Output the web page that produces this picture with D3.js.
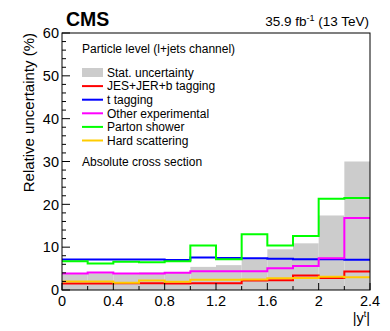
<!DOCTYPE html>
<html>
<head>
<meta charset="utf-8">
<script src="https://cdn.jsdelivr.net/npm/d3@7"></script>
<style>
body { margin: 0; background: #fff; }
svg text { font-family: "Liberation Sans", Arial, sans-serif; fill: #000; }
</style>
</head>
<body>
<svg id="chart" width="390" height="331"></svg>
<script>
'use strict';
// bin edges of |y^t|
let binEdges = [0, 0.2, 0.4, 0.6, 0.8, 1.0, 1.2, 1.4, 1.6, 1.8, 2.0, 2.2, 2.4];

// relative uncertainties (%) per bin
let statUnc      = [3.7, 3.9, 3.7, 4.1, 4.2, 5.4, 5.8, 7.2, 9.5, 10.9, 17.4, 30.0];
let jesJerBtag   = [1.5, 1.5, 1.6, 1.6, 1.5, 1.6, 1.6, 2.2, 2.3, 3.4, 2.8, 4.3];
let tTagging     = [7.1, 7.1, 7.1, 7.1, 7.0, 7.6, 7.5, 7.4, 7.3, 7.2, 7.2, 7.05];
let otherExp     = [3.85, 4.1, 3.85, 3.85, 4.0, 4.4, 4.4, 4.4, 5.1, 5.6, 7.4, 16.8];
let partonShower = [6.7, 6.2, 6.6, 6.5, 6.7, 10.4, 7.2, 13.0, 10.4, 12.6, 21.3, 21.5];
let hardScatter  = [2.0, 2.0, 1.7, 2.2, 1.9, 2.4, 2.4, 2.45, 2.75, 2.8, 3.1, 3.0];

let xTicks = [0, 0.4, 0.8, 1.2, 1.6, 2, 2.4];
let yTicks = [0, 10, 20, 30, 40, 50, 60];

let lineSeries = [
    {name: "JES+JER+b tagging", color: "#ff0000", values: jesJerBtag},
    {name: "t tagging", color: "#0000ff", values: tTagging},
    {name: "Other experimental", color: "#ff00ff", values: otherExp},
    {name: "Parton shower", color: "#00ff00", values: partonShower},
    {name: "Hard scattering", color: "#ffcc00", values: hardScatter}
];

let svg = d3.select("#chart");
let frame = {left: 62, right: 370, top: 33, bottom: 290};

let x = d3.scaleLinear().domain([0, 2.4]).range([frame.left, frame.right]);
let y = d3.scaleLinear().domain([0, 60]).range([frame.bottom, frame.top]);

// step points: value held over each bin, repeated at last edge
function stepPoints(vals) {
    let pts = vals.map((v, i) => ({x: binEdges[i], v: v}));
    pts.push({x: binEdges[binEdges.length - 1], v: vals[vals.length - 1]});
    return pts;
}

// stat. uncertainty as gray bars
svg.append("g").selectAll("rect")
    .data(statUnc)
    .enter().append("rect")
    .attr("x", (d, i) => x(binEdges[i]))
    .attr("width", (d, i) => x(binEdges[i + 1]) - x(binEdges[i]))
    .attr("y", d => y(d))
    .attr("height", d => y(0) - y(d))
    .attr("fill", "#cccccc");

let line = d3.line()
    .curve(d3.curveStepAfter)
    .x(d => x(d.x))
    .y(d => y(d.v));

svg.append("g").selectAll("path")
    .data(lineSeries)
    .enter().append("path")
    .attr("d", d => line(stepPoints(d.values)))
    .attr("fill", "none")
    .attr("stroke", d => d.color)
    .attr("stroke-width", 2);

// frame
svg.append("rect")
    .attr("x", frame.left).attr("y", frame.top)
    .attr("width", frame.right - frame.left)
    .attr("height", frame.bottom - frame.top)
    .attr("fill", "none").attr("stroke", "#000").attr("stroke-width", 1);

// y ticks (inside)
let yAxis = svg.append("g");
yAxis.selectAll("line.minor")
    .data(d3.range(0, 61, 2))
    .enter().append("line")
    .attr("x1", frame.left).attr("x2", d => frame.left + (d % 10 === 0 ? 8 : 4))
    .attr("y1", d => y(d)).attr("y2", d => y(d))
    .attr("stroke", "#000").attr("stroke-width", 1);
yAxis.selectAll("text")
    .data(yTicks)
    .enter().append("text")
    .attr("x", frame.left - 3)
    .attr("y", d => y(d))
    .attr("dy", "0.36em")
    .attr("text-anchor", "end")
    .style("font-size", "14.5px")
    .text(d => d);

// x ticks (inside)
let xAxis = svg.append("g");
xAxis.selectAll("line")
    .data(d3.range(0, 13).map(i => i * 0.2))
    .enter().append("line")
    .attr("x1", d => x(d)).attr("x2", d => x(d))
    .attr("y1", frame.bottom).attr("y2", (d, i) => frame.bottom - (i % 2 === 0 ? 7 : 4))
    .attr("stroke", "#000").attr("stroke-width", 1);
xAxis.selectAll("text")
    .data(xTicks)
    .enter().append("text")
    .attr("x", d => x(d))
    .attr("y", 306)
    .attr("text-anchor", "middle")
    .style("font-size", "14.5px")
    .text(d => d);

// axis titles
svg.append("text")
    .attr("transform", "translate(34,33) rotate(-90)")
    .attr("text-anchor", "end")
    .style("font-size", "15px")
    .text("Relative uncertainty (%)");

let xt = svg.append("text")
    .attr("x", frame.right)
    .attr("y", 323)
    .attr("text-anchor", "end")
    .style("font-size", "14.5px");
xt.append("tspan").text("|y");
xt.append("tspan").attr("dy", -6).style("font-size", "9px").text("t");
xt.append("tspan").attr("dy", 6).text("|");

// header
svg.append("text")
    .attr("x", 66).attr("y", 26)
    .style("font-size", "19.5px").style("font-weight", "bold")
    .text("CMS");

let lumi = svg.append("text")
    .attr("x", 369).attr("y", 26)
    .attr("text-anchor", "end")
    .style("font-size", "13.5px");
lumi.append("tspan").text("35.9 fb");
lumi.append("tspan").attr("dy", -5).style("font-size", "9px").text("-1");
lumi.append("tspan").attr("dy", 5).text(" (13 TeV)");

// legend
svg.append("text")
    .attr("x", 82).attr("y", 52.5)
    .style("font-size", "12px")
    .text("Particle level (l+jets channel)");

let legend = svg.append("g");
let legendRows = [{name: "Stat. uncertainty", color: "#cccccc", box: true}].concat(lineSeries);
let legendY = d3.scaleLinear().domain([0, 5]).range([72.5, 140.5]);

let entry = legend.selectAll("g")
    .data(legendRows)
    .enter().append("g")
    .attr("transform", (d, i) => "translate(0," + legendY(i) + ")");
entry.filter(d => d.box).append("rect")
    .attr("x", 82).attr("y", -4.5).attr("width", 21).attr("height", 9)
    .attr("fill", d => d.color);
entry.filter(d => !d.box).append("line")
    .attr("x1", 82).attr("x2", 103)
    .attr("stroke", d => d.color).attr("stroke-width", 2);
entry.append("text")
    .attr("x", 107).attr("dy", "0.36em")
    .style("font-size", "12px")
    .text(d => d.name);

svg.append("text")
    .attr("x", 82).attr("y", 165.5)
    .style("font-size", "12px")
    .text("Absolute cross section");
</script>
</body>
</html>
